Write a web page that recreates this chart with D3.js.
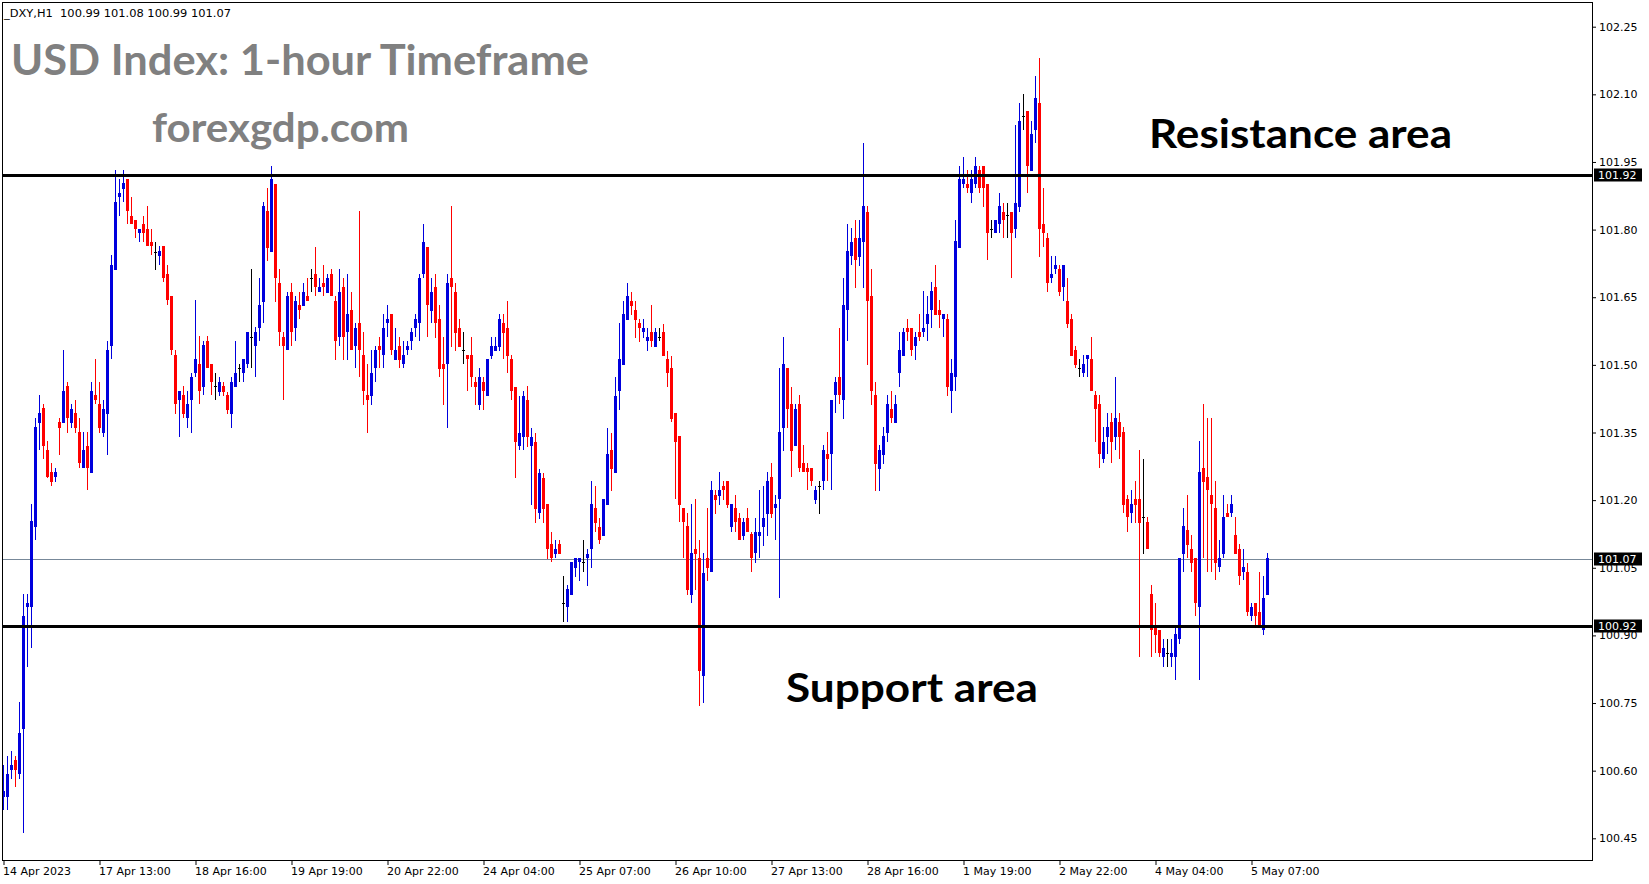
<!DOCTYPE html>
<html><head><meta charset="utf-8">
<script src="https://cdn.jsdelivr.net/npm/d3@7"></script>
<style>
html,body{margin:0;padding:0;background:#fff;overflow:hidden}
svg{display:block}
</style>
</head><body>
<svg id="chart" width="1649" height="884"></svg>
<script>
// ---------------- DATA ----------------
const headerText = "_DXY,H1  100.99 101.08 100.99 101.07";
const titleText = "USD Index: 1-hour Timeframe";
const siteText = "forexgdp.com";
const resistanceText = "Resistance area";
const supportText = "Support area";

const opens = [
100.541,100.541,100.602,100.623,100.592,100.692,100.962,100.962,101.141,101.372,
101.404,101.311,101.262,101.251,101.374,101.372,101.454,101.372,101.394,101.352,
101.271,101.321,101.261,101.433,101.413,101.350,101.392,101.541,101.711,101.872,
101.891,101.913,101.831,101.822,101.792,101.813,101.802,101.772,101.750,101.741,
101.763,101.702,101.652,101.522,101.421,101.433,101.382,101.421,101.482,101.502,
101.451,101.553,101.502,101.453,101.440,101.453,101.433,101.391,101.452,101.493,
101.481,101.501,101.561,101.541,101.581,101.640,101.842,101.751,101.902,101.681,
101.561,101.532,101.662,101.581,101.633,101.631,101.653,101.693,101.702,101.662,
101.681,101.660,101.702,101.642,101.561,101.673,101.572,101.622,101.541,101.592,
101.521,101.433,101.431,101.492,101.542,101.521,101.592,101.613,101.511,101.542,
101.502,101.532,101.552,101.581,101.592,101.702,101.761,101.620,101.672,101.602,
101.502,101.502,101.692,101.662,101.582,101.532,101.522,101.522,101.462,101.411,
101.462,101.432,101.520,101.531,101.540,101.592,101.582,101.512,101.452,101.321,
101.341,101.422,101.321,101.330,101.171,101.250,101.191,101.103,101.080,101.103,
100.971,100.962,100.989,101.050,101.062,101.062,101.071,101.091,101.182,101.141,
101.120,101.189,101.311,101.261,101.441,101.500,101.600,101.642,101.622,101.592,
101.572,101.552,101.573,101.540,101.562,101.573,101.512,101.493,101.394,101.343,
101.182,101.143,100.990,101.092,101.071,100.811,101.071,101.040,101.211,101.210,
101.232,101.242,101.140,101.182,101.161,101.121,101.161,101.124,101.082,101.121,
101.140,101.170,101.252,101.182,101.202,101.360,101.493,101.413,101.320,101.413,
101.282,101.272,101.272,101.201,101.232,101.242,101.302,101.302,101.433,101.473,
101.423,101.621,101.742,101.782,101.740,101.772,101.840,101.653,101.434,101.269,
101.300,101.350,101.403,101.372,101.482,101.520,101.581,101.581,101.541,101.573,
101.573,101.591,101.621,101.672,101.622,101.601,101.601,101.441,101.473,101.760,
101.902,101.902,101.881,101.902,101.933,101.942,101.902,101.802,101.792,101.812,
101.840,101.833,101.840,101.801,101.851,102.051,102.062,101.931,102.022,102.081,
101.812,101.781,101.692,101.712,101.712,101.672,101.641,101.602,101.533,101.493,
101.482,101.513,101.513,101.434,101.414,101.291,101.341,101.373,101.341,101.373,
101.352,101.202,101.171,101.202,101.202,101.162,101.152,100.992,100.921,100.911,
100.851,100.862,100.851,100.851,100.891,101.081,101.133,101.091,101.071,100.962,
101.271,101.251,101.212,101.182,101.051,101.081,101.171,101.171,101.123,101.091,
101.041,101.041,100.942,100.971,100.951,100.911,100.990];

const highs = [
100.612,100.633,100.643,100.633,100.753,100.992,100.992,101.192,101.382,101.433,
101.413,101.331,101.282,101.271,101.382,101.533,101.463,101.413,101.423,101.382,
101.352,101.352,101.463,101.513,101.463,101.421,101.553,101.743,101.933,101.913,
101.933,101.913,101.872,101.822,101.802,101.831,101.852,101.802,101.772,101.763,
101.763,101.721,101.652,101.532,101.441,101.454,101.441,101.482,101.643,101.564,
101.553,101.564,101.502,101.483,101.474,101.461,101.439,101.473,101.553,101.502,
101.514,101.574,101.713,101.585,101.693,101.862,101.893,101.942,101.902,101.713,
101.572,101.662,101.681,101.653,101.662,101.681,101.693,101.713,101.761,101.693,
101.721,101.702,101.713,101.653,101.713,101.693,101.702,101.662,101.592,101.842,
101.573,101.502,101.533,101.542,101.561,101.613,101.633,101.613,101.582,101.561,
101.552,101.552,101.582,101.613,101.702,101.813,101.761,101.692,101.702,101.633,
101.562,101.702,101.852,101.682,101.602,101.572,101.522,101.562,101.472,101.492,
101.472,101.512,101.562,101.562,101.612,101.612,101.642,101.522,101.452,101.432,
101.441,101.453,101.361,101.350,101.270,101.261,101.191,101.130,101.111,101.111,
101.032,101.012,101.062,101.071,101.071,101.111,101.091,101.242,101.231,101.160,
101.202,101.361,101.350,101.474,101.592,101.642,101.682,101.662,101.642,101.602,
101.602,101.581,101.633,101.581,101.581,101.591,101.531,101.520,101.394,101.343,
101.182,101.171,101.191,101.202,101.111,101.082,101.182,101.242,101.222,101.262,
101.242,101.242,101.191,101.211,101.171,101.161,101.182,101.130,101.161,101.222,
101.232,101.262,101.282,101.211,101.493,101.562,101.493,101.452,101.413,101.433,
101.322,101.282,101.272,101.232,101.242,101.322,101.351,101.423,101.473,101.581,
101.693,101.813,101.803,101.822,101.822,101.992,101.853,101.712,101.463,101.323,
101.363,101.434,101.443,101.434,101.573,101.581,101.601,101.581,101.573,101.613,
101.663,101.653,101.683,101.722,101.643,101.613,101.613,101.513,101.822,101.942,
101.961,101.933,101.933,101.961,101.942,101.942,101.902,101.822,101.822,101.881,
101.860,101.860,101.840,102.033,102.081,102.101,102.062,102.041,102.141,102.181,
101.892,101.792,101.742,101.742,101.722,101.722,101.692,101.613,101.542,101.513,
101.522,101.522,101.561,101.441,101.434,101.362,101.393,101.393,101.474,101.393,
101.362,101.212,101.223,101.243,101.312,101.291,101.162,101.012,100.971,100.911,
100.891,100.891,100.891,100.921,101.071,101.182,101.212,101.123,101.071,101.331,
101.414,101.382,101.382,101.243,101.112,101.212,101.192,101.212,101.162,101.103,
101.091,101.061,100.971,100.971,101.041,101.031,101.082];

const lows = [
100.512,100.512,100.582,100.563,100.582,100.462,100.831,100.871,101.112,101.311,
101.292,101.249,101.232,101.241,101.301,101.372,101.350,101.360,101.350,101.271,
101.271,101.222,101.261,101.413,101.350,101.341,101.301,101.513,101.711,101.831,
101.862,101.813,101.813,101.782,101.772,101.772,101.763,101.743,101.711,101.721,
101.684,101.633,101.522,101.392,101.341,101.382,101.360,101.350,101.472,101.413,
101.433,101.492,101.433,101.421,101.431,101.431,101.391,101.361,101.452,101.461,
101.461,101.492,101.492,101.472,101.552,101.592,101.731,101.751,101.640,101.541,
101.421,101.532,101.541,101.552,101.601,101.631,101.641,101.662,101.652,101.662,
101.652,101.660,101.652,101.511,101.541,101.511,101.511,101.532,101.492,101.472,
101.411,101.350,101.411,101.461,101.492,101.492,101.561,101.521,101.511,101.492,
101.492,101.521,101.532,101.561,101.552,101.693,101.561,101.592,101.560,101.472,
101.411,101.361,101.540,101.531,101.540,101.502,101.441,101.452,101.411,101.401,
101.401,101.432,101.512,101.531,101.531,101.512,101.481,101.421,101.250,101.311,
101.311,101.318,101.189,101.150,101.159,101.150,101.069,101.062,101.071,101.080,
100.930,100.930,100.989,101.030,101.021,101.041,101.010,101.050,101.130,101.103,
101.120,101.189,101.221,101.261,101.400,101.500,101.600,101.611,101.560,101.551,
101.560,101.531,101.540,101.540,101.552,101.520,101.452,101.373,101.202,101.151,
101.071,100.990,100.971,101.001,100.744,100.751,101.021,101.040,101.170,101.189,
101.201,101.182,101.130,101.130,101.111,101.111,101.130,101.040,101.061,101.071,
101.099,101.121,101.161,101.111,100.982,101.310,101.360,101.252,101.320,101.262,
101.262,101.222,101.232,101.191,101.170,101.222,101.242,101.222,101.394,101.413,
101.381,101.552,101.721,101.670,101.720,101.670,101.500,101.411,101.221,101.221,
101.280,101.330,101.372,101.372,101.452,101.520,101.552,101.520,101.511,101.552,
101.561,101.552,101.581,101.611,101.581,101.561,101.431,101.393,101.441,101.760,
101.892,101.881,101.860,101.892,101.881,101.851,101.732,101.781,101.792,101.792,
101.781,101.781,101.692,101.781,101.840,102.022,101.881,101.931,101.992,101.740,
101.761,101.661,101.681,101.702,101.652,101.641,101.581,101.520,101.493,101.472,
101.472,101.472,101.441,101.330,101.271,101.282,101.303,101.282,101.312,101.291,
101.171,101.130,101.150,101.150,100.851,101.081,101.091,100.851,100.862,100.851,
100.831,100.831,100.831,100.801,100.881,101.041,101.071,101.041,100.942,100.801,
101.071,101.041,101.041,101.022,101.041,101.071,101.162,101.162,101.081,101.012,
101.022,100.942,100.931,100.921,100.921,100.901,100.990];

const closes = [
100.554,100.592,100.612,100.602,100.684,100.944,100.972,101.153,101.362,101.394,
101.321,101.251,101.241,101.262,101.360,101.441,101.382,101.402,101.360,101.282,
101.311,101.271,101.441,101.421,101.360,101.402,101.533,101.721,101.862,101.882,
101.903,101.841,101.813,101.802,101.802,101.792,101.763,101.763,101.750,101.753,
101.692,101.643,101.532,101.413,101.441,101.392,101.413,101.472,101.513,101.441,
101.543,101.492,101.463,101.453,101.462,101.440,101.400,101.462,101.481,101.493,
101.512,101.573,101.561,101.573,101.633,101.853,101.760,101.913,101.692,101.572,
101.541,101.653,101.572,101.642,101.622,101.662,101.641,101.693,101.672,101.673,
101.672,101.693,101.652,101.552,101.662,101.561,101.613,101.532,101.582,101.532,
101.441,101.421,101.481,101.533,101.532,101.582,101.601,101.532,101.533,101.511,
101.521,101.542,101.573,101.601,101.693,101.773,101.633,101.662,101.592,101.491,
101.491,101.682,101.672,101.571,101.540,101.532,101.512,101.472,101.452,101.472,
101.441,101.512,101.542,101.542,101.602,101.571,101.520,101.441,101.330,101.350,
101.432,101.341,101.341,101.180,101.261,101.180,101.091,101.071,101.091,101.080,
100.971,101.003,101.062,101.071,101.071,101.062,101.080,101.191,101.150,101.111,
101.202,101.302,101.270,101.432,101.512,101.612,101.652,101.631,101.600,101.582,
101.582,101.562,101.552,101.573,101.562,101.520,101.481,101.381,101.330,101.189,
101.151,101.001,101.082,101.081,100.821,101.038,101.050,101.222,101.201,101.222,
101.222,101.189,101.191,101.151,101.111,101.151,101.130,101.071,101.130,101.130,
101.161,101.242,101.170,101.191,101.351,101.502,101.402,101.310,101.402,101.272,
101.262,101.262,101.242,101.222,101.232,101.312,101.291,101.423,101.462,101.433,
101.633,101.753,101.773,101.732,101.781,101.853,101.641,101.441,101.280,101.312,
101.343,101.414,101.382,101.414,101.533,101.573,101.573,101.532,101.561,101.561,
101.581,101.613,101.663,101.611,101.611,101.613,101.452,101.483,101.774,101.912,
101.912,101.892,101.912,101.942,101.892,101.892,101.792,101.802,101.822,101.853,
101.822,101.833,101.792,101.860,102.041,102.051,101.940,102.012,102.092,101.801,
101.792,101.681,101.702,101.722,101.661,101.722,101.591,101.520,101.500,101.493,
101.502,101.522,101.441,101.402,101.303,101.330,101.362,101.330,101.382,101.341,
101.189,101.162,101.192,101.189,101.150,101.162,101.091,100.911,100.901,100.862,
100.872,100.862,100.862,100.903,101.071,101.143,101.101,101.061,100.971,101.263,
101.241,101.223,101.192,101.061,101.071,101.162,101.162,101.192,101.081,101.031,
101.051,100.951,100.962,100.942,100.921,100.982,101.071];

const xTickIndex = [0,24,48,72,96,120,144,168,192,216,240,264,288,312];
const xTickLabels = ["14 Apr 2023","17 Apr 13:00","18 Apr 16:00","19 Apr 19:00","20 Apr 22:00",
  "24 Apr 04:00","25 Apr 07:00","26 Apr 10:00","27 Apr 13:00","28 Apr 16:00",
  "1 May 19:00","2 May 22:00","4 May 04:00","5 May 07:00"];
const yTickValues = [102.25,102.10,101.95,101.80,101.65,101.50,101.35,101.20,101.05,100.90,100.75,100.60,100.45];

const resistanceLevel = 101.92;
const supportLevel = 100.92;
const lastPrice = 101.07;

// ---------------- CHART ----------------
const svg = d3.select("#chart");
const plotL = 2, plotR = 1592, plotT = 2, plotB = 860;

const x = d3.scaleLinear().domain([0, opens.length - 1]).range([3.5, 3.5 + 4 * (opens.length - 1)]);
const y = d3.scaleLinear().domain([100.45, 102.25]).range([838.3, 26.7]);

const candles = opens.map((o, i) => ({i, o, h: highs[i], l: lows[i], c: closes[i]}));
const colorOf = d => d.c > d.o ? "#0000dd" : (d.c < d.o ? "#ff0000" : "#000000");

const clipId = "plotclip";
svg.append("defs").append("clipPath").attr("id", clipId)
  .append("rect").attr("x", plotL).attr("y", plotT).attr("width", plotR - plotL).attr("height", plotB - plotT);

const plot = svg.append("g").attr("clip-path", `url(#${clipId})`);

// last price line (behind candles)
plot.append("line")
  .attr("x1", plotL).attr("x2", plotR)
  .attr("y1", Math.round(y(lastPrice)) + 0.5).attr("y2", Math.round(y(lastPrice)) + 0.5)
  .attr("stroke", "#778899").attr("stroke-width", 1);

const cg = plot.append("g").attr("shape-rendering", "crispEdges");
// wicks
cg.selectAll("rect.wick").data(candles).join("rect").attr("class", "wick")
  .attr("x", d => x(d.i) - 0.5)
  .attr("y", d => y(d.h))
  .attr("width", 1)
  .attr("height", d => Math.max(1, y(d.l) - y(d.h)))
  .attr("fill", colorOf);
// bodies
cg.selectAll("rect.body").data(candles).join("rect").attr("class", "body")
  .attr("x", d => x(d.i) - 1.5)
  .attr("y", d => y(Math.max(d.o, d.c)))
  .attr("width", 3)
  .attr("height", d => Math.max(1, Math.abs(y(d.o) - y(d.c))))
  .attr("fill", colorOf);

// resistance / support lines
[resistanceLevel, supportLevel].forEach(v => {
  plot.append("line")
    .attr("x1", plotL).attr("x2", plotR)
    .attr("y1", y(v)).attr("y2", y(v))
    .attr("stroke", "#000").attr("stroke-width", 3);
});

// frame
svg.append("rect")
  .attr("x", plotL + 0.5).attr("y", plotT + 0.5)
  .attr("width", plotR - plotL).attr("height", plotB - plotT - 0.5)
  .attr("fill", "none").attr("stroke", "#000").attr("stroke-width", 1)
  .attr("shape-rendering", "crispEdges");

const smallFont = "'DejaVu Sans', Verdana, sans-serif";

// y axis
const yAxis = svg.append("g").attr("transform", `translate(${plotR},0)`)
  .call(d3.axisRight(y).tickValues(yTickValues).tickSize(4).tickFormat(d3.format(".2f")));
yAxis.select(".domain").remove();
yAxis.selectAll("text").attr("font-family", smallFont).attr("font-size", 11).attr("fill", "#000").attr("x", 7);
yAxis.selectAll("line").attr("stroke", "#000");

// x axis
const xAxis = svg.append("g").attr("transform", `translate(0,${plotB})`)
  .call(d3.axisBottom(x).tickValues(xTickIndex).tickSize(5).tickFormat((d, i) => xTickLabels[i]));
xAxis.select(".domain").remove();
xAxis.selectAll("text").attr("font-family", smallFont).attr("font-size", 11).attr("fill", "#000")
  .attr("text-anchor", "start").attr("x", -1).attr("y", 7);
xAxis.selectAll("line").attr("stroke", "#000");

// price boxes
[resistanceLevel, lastPrice, supportLevel].forEach(v => {
  const cy = y(v);
  const g = svg.append("g");
  g.append("rect").attr("x", 1594).attr("y", Math.round(cy) - 6.5).attr("width", 48).attr("height", 13).attr("fill", "#000");
  g.append("text").attr("x", 1598).attr("y", cy).attr("dy", "0.36em")
    .attr("font-family", smallFont).attr("font-size", 11).attr("fill", "#fff").text(d3.format(".2f")(v));
});

// header
svg.append("text").attr("x", 4).attr("y", 17)
  .attr("font-family", smallFont).attr("font-size", 11).attr("fill", "#000")
  .style("white-space", "pre").attr("textLength", 227).attr("lengthAdjust", "spacingAndGlyphs")
  .text(headerText);

const bigFont = "Lato, 'Open Sans', sans-serif";
function bigText(t, xx, yy, w, size, color) {
  svg.append("text").attr("x", xx).attr("y", yy)
    .attr("font-family", bigFont).attr("font-weight", 700).attr("font-size", size)
    .attr("fill", color).attr("textLength", w).attr("lengthAdjust", "spacingAndGlyphs")
    .text(t);
}
bigText(titleText, 11, 75, 578, 42, "#808080");
bigText(siteText, 152, 142, 257, 41, "#808080");
bigText(resistanceText, 1149, 148, 303, 41, "#000");
bigText(supportText, 786, 702, 252, 41, "#000");
</script>
</body></html>
